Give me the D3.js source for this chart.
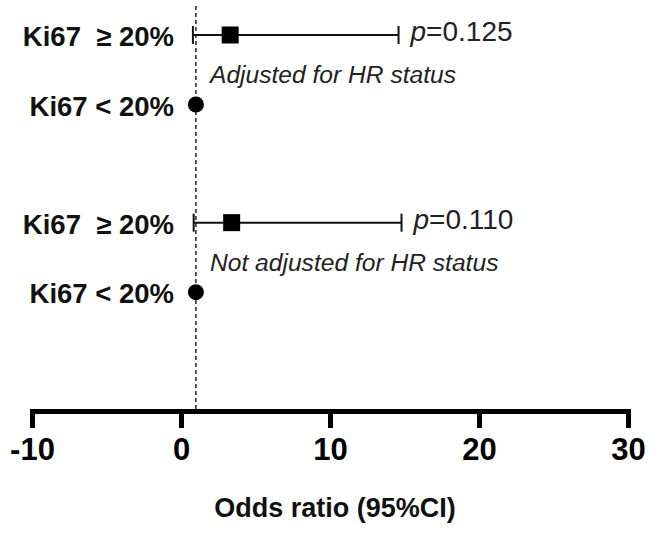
<!DOCTYPE html>
<html>
<head>
<meta charset="utf-8">
<script src="https://cdn.jsdelivr.net/npm/d3@7"></script>
<style>
  html, body { margin: 0; padding: 0; background: #fff; }
  svg { display: block; font-family: "Liberation Sans", Arial, Helvetica, sans-serif; }
  text { white-space: pre; }
</style>
</head>
<body>
<svg id="chart" width="649" height="534"></svg>
<script>
// ---- data ----
const groups = ["Adjusted for HR status", "Not adjusted for HR status"];
const rowLabels = ["Ki67  \u2265 20%", "Ki67 < 20%"];
const oddsRatio = [3.3, 3.4];          // Ki67 >= 20% estimate per group
const ciLower = [0.8, 0.85];
const ciUpper = [14.6, 14.8];
const pValues = ["0.125", "0.110"];
const referenceOR = [1, 1];            // Ki67 < 20% reference per group
const xTicks = [-10, 0, 10, 20, 30];
const xTitle = "Odds ratio (95%CI)";

// ---- layout ----
const svg = d3.select("#chart");
const x = d3.scaleLinear().domain([-10, 30]).range([32, 628]);
const groupStep = 2.7;                  // rows per group incl. gap
const y = d3.scaleLinear().domain([0, 1]).range([35, 104.5]);
const axisY = 411;

// reference dashed line at OR = 1
svg.append("line")
  .attr("x1", x(1)).attr("x2", x(1))
  .attr("y1", 6).attr("y2", axisY)
  .attr("stroke", "#222").attr("stroke-width", 1.5)
  .attr("stroke-dasharray", "4,3");

groups.forEach((g, i) => {
  const yTop = y(i * groupStep);
  const yBot = y(i * groupStep + 1);

  // row labels
  svg.append("text")
    .attr("x", 174).attr("y", yTop + 11)
    .attr("text-anchor", "end")
    .attr("font-size", 27.5).attr("font-weight", "bold")
    .attr("fill", "#111")
    .text(rowLabels[0]);
  svg.append("text")
    .attr("x", 174).attr("y", yBot + 11)
    .attr("text-anchor", "end")
    .attr("font-size", 27.5).attr("font-weight", "bold")
    .attr("fill", "#111")
    .text(rowLabels[1]);

  // CI line and caps
  svg.append("line")
    .attr("x1", x(ciLower[i])).attr("x2", x(ciUpper[i]))
    .attr("y1", yTop).attr("y2", yTop)
    .attr("stroke", "#111").attr("stroke-width", 2);
  [ciLower[i], ciUpper[i]].forEach(v => {
    svg.append("line")
      .attr("x1", x(v)).attr("x2", x(v))
      .attr("y1", yTop - 9).attr("y2", yTop + 9)
      .attr("stroke", "#111").attr("stroke-width", 2);
  });

  // square estimate
  svg.append("rect")
    .attr("x", x(oddsRatio[i]) - 8.5).attr("y", yTop - 8.5)
    .attr("width", 17).attr("height", 17)
    .attr("fill", "#000");

  // reference circle
  svg.append("circle")
    .attr("cx", x(referenceOR[i])).attr("cy", yBot)
    .attr("r", 8).attr("fill", "#000");

  // p value
  const pt = svg.append("text")
    .attr("x", x(ciUpper[i]) + 12).attr("y", yTop + 6)
    .attr("font-size", 28).attr("fill", "#222");
  pt.append("tspan").attr("font-style", "italic").text("p");
  pt.append("tspan").text("=" + pValues[i]);

  // group note
  svg.append("text")
    .attr("x", 210).attr("y", yTop + 48)
    .attr("font-size", 24.6).attr("font-style", "italic")
    .attr("fill", "#222")
    .text(g);
});

// x axis
const axis = d3.axisBottom(x)
  .tickValues(xTicks)
  .tickSizeInner(17).tickSizeOuter(17)
  .tickFormat(d3.format("d"));
const gx = svg.append("g")
  .attr("transform", `translate(0,${axisY})`)
  .call(axis);
gx.select(".domain").attr("stroke", "#000").attr("stroke-width", 5)
  .attr("stroke-linejoin", "miter").attr("fill", "none");
gx.selectAll(".tick line").attr("stroke", "#000").attr("stroke-width", 5);
gx.selectAll(".tick text")
  .attr("y", 49).attr("dy", 0)
  .attr("font-size", 31).attr("font-weight", "bold")
  .attr("font-family", "\"Liberation Sans\", Arial, sans-serif")
  .attr("fill", "#000")
  .text(d => d < 0 ? "-" + Math.abs(d) : d);

// axis title
svg.append("text")
  .attr("x", 335).attr("y", 517)
  .attr("text-anchor", "middle")
  .attr("font-size", 27).attr("font-weight", "bold")
  .attr("fill", "#111")
  .text(xTitle);
</script>
</body>
</html>
